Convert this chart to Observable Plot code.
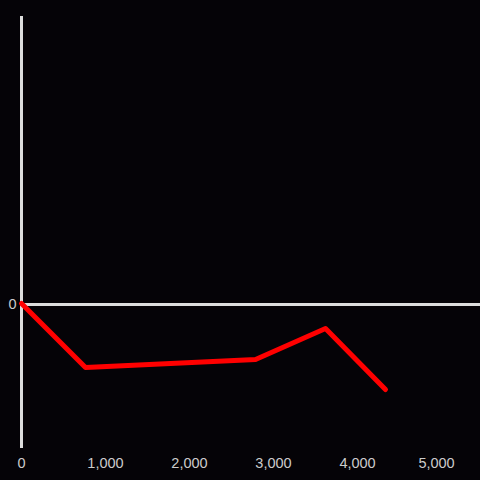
<!DOCTYPE html>
<html>
<head>
<meta charset="utf-8">
<script src="https://cdn.jsdelivr.net/npm/d3@7"></script>
<script src="https://cdn.jsdelivr.net/npm/@observablehq/plot@0.6"></script>
<style>
  html, body { margin: 0; padding: 0; background: #050307; }
  #chart svg { display: block; }
</style>
</head>
<body>
<div id="chart"></div>
<script>
const xs = [0, 762, 2786, 3619, 4333];
const ys = [0, -64, -56, -25, -86];
const xTicks = [0, 1000, 2000, 3000, 4000];
const xLastTick = [5000];
const yTicks = [0];

const data = xs.map((x, i) => ({x, y: ys[i]}));

const chart = Plot.plot({
  width: 480,
  height: 480,
  marginLeft: 21,
  marginRight: 0,
  marginTop: 16,
  marginBottom: 32,
  style: {background: "#050307", color: "#cccccc", fontFamily: "Liberation Sans, Arial, sans-serif", fontSize: "14.5px"},
  x: {domain: [0, 5464]},
  y: {domain: [-145, 287]},
  marks: [
    Plot.axisX({ticks: xTicks, tickSize: 0, tickPadding: 9, tickFormat: d3.format(","), label: null, fill: "#cccccc"}),
    Plot.axisX({ticks: xLastTick, tickSize: 0, tickPadding: 9, tickFormat: d3.format(","), label: null, fill: "#cccccc", dx: -5}),
    Plot.axisY({ticks: yTicks, tickSize: 0, tickPadding: 5, label: null, fill: "#cccccc", dy: 1}),
    Plot.ruleX([0], {stroke: "#dddddd", strokeWidth: 3}),
    Plot.ruleY([0], {stroke: "#dddddd", strokeWidth: 3, dy: 1}),
    Plot.line(data, {x: "x", y: "y", stroke: "#ff0000", strokeWidth: 5})
  ]
});
document.getElementById("chart").appendChild(chart);
</script>
</body>
</html>
